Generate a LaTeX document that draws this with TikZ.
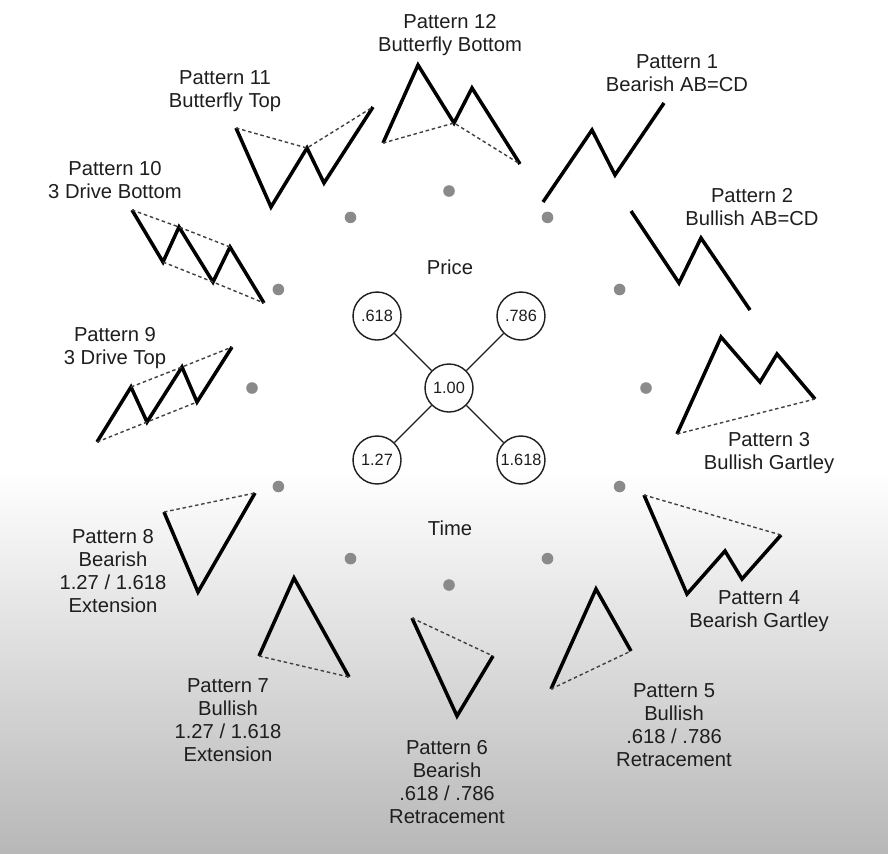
\documentclass[tikz,border=0pt]{standalone}
\usepackage{fontspec}
\setmainfont{Liberation Sans}
\usetikzlibrary{positioning}

\definecolor{ink}{HTML}{1E1E1E}
\definecolor{dotgray}{HTML}{8A8A8A}

\tikzset{
  wave/.style={draw=black, line width=2pt, line join=miter},
  guide/.style={draw=ink!85, line width=0.8pt, dash pattern=on 2pt off 1.6pt},
  spoke/.style={draw=ink, line width=0.7pt}
}

\begin{document}
\begin{tikzpicture}[x=0.02cm, y=-0.02cm, node distance=1.44cm and 1.44cm, on grid]
  % page and grey fade at the bottom
  \fill[white] (0,0) rectangle (888,853);
  \shade[top color=white, bottom color=black!28] (0,470) rectangle (888,853);
  \useasboundingbox (0,0) rectangle (888,853);

  % ratio circles in the middle
  \begin{scope}[every node/.style={circle, draw=ink, line width=0.8pt, minimum size=0.96cm,
      inner sep=0pt, text=ink, font=\fontsize{9.3}{11}\selectfont}]
    \node (one) at (449,388) {1.00};
    \node (r618) [above left=of one] {.618};
    \node (r786) [above right=of one] {.786};
    \node (r127) [below left=of one] {1.27};
    \node (r1618) [below right=of one] {1.618};
  \end{scope}
  \begin{scope}[every path/.style={spoke}]
    \path (one) edge (r618);
    \path (one) edge (r786);
    \path (one) edge (r127);
    \path (one) edge (r1618);
  \end{scope}

  % clock dots
  \foreach \a in {0,30,...,330}
    \fill[dotgray] (one.center) ++(\a:197) circle[radius=3.3pt];

  % the twelve patterns
  \draw[wave] (543,202) -- (592,130) -- (615,175) -- (664,103);                      % 1
  \draw[wave] (631,211) -- (679,283) -- (701,238) -- (750,310);                      % 2
  \draw[wave] (677,434) -- (721,337) -- (760,382) -- (777,354) -- (815,399);         % 3
  \draw[guide] (677,434) -- (815,399);
  \draw[wave] (644,495) -- (687,594) -- (725,551) -- (742,579) -- (781,535);         % 4
  \draw[guide] (644,495) -- (781,535);
  \draw[wave] (551,689) -- (596,589) -- (631,651);                                   % 5
  \draw[guide] (551,689) -- (631,651);
  \draw[wave] (412,618) -- (457,716) -- (493,656);                                   % 6
  \draw[guide] (412,618) -- (493,656);
  \draw[wave] (259,656) -- (294,578) -- (349,677);                                   % 7
  \draw[guide] (259,656) -- (349,677);
  \draw[wave] (164,512) -- (198,592) -- (255,493);                                   % 8
  \draw[guide] (164,512) -- (255,493);
  \draw[wave] (97,442) -- (131,387) -- (147,422) -- (182,367) -- (197,402) -- (232,347); % 9
  \draw[guide] (131,387) -- (182,367) -- (232,347);
  \draw[guide] (97,442) -- (147,422) -- (197,402);
  \draw[wave] (132,210) -- (163,262) -- (179,227) -- (213,282) -- (230,247) -- (264,303); % 10
  \draw[guide] (132,210) -- (179,227) -- (230,247);
  \draw[guide] (163,262) -- (213,282) -- (264,303);
  \draw[wave] (236,128) -- (271,207) -- (307,148) -- (324,183) -- (373,107);         % 11
  \draw[guide] (236,128) -- (307,148) -- (373,107);
  \draw[wave] (383,143) -- (418,65) -- (454,123) -- (472,88) -- (520,164);           % 12
  \draw[guide] (383,143) -- (454,123) -- (520,164);

  % labels
  \begin{scope}[every node/.style={align=center, text=ink, inner sep=0pt,
      font=\fontsize{11.5}{13.2}\selectfont}]
    \node (price) at (450,267) {Price};
    \node (time) at (450,528) {Time};
    \node (lab1) at (677,73) {Pattern 1\\Bearish AB=CD};
    \node (lab2) at (752,207) {Pattern 2\\Bullish AB=CD};
    \node (lab3) at (769,453) {Pattern 3\\Bullish Gartley};
    \node (lab4) at (759,611) {Pattern 4\\Bearish Gartley};
    \node (lab5) at (674,725) {Pattern 5\\Bullish\\.618 / .786\\Retracement};
    \node (lab6) at (447,782) {Pattern 6\\Bearish\\.618 / .786\\Retracement};
    \node (lab7) at (228,720) {Pattern 7\\Bullish\\1.27 / 1.618\\Extension};
    \node (lab8) at (113,571) {Pattern 8\\Bearish\\1.27 / 1.618\\Extension};
    \node (lab9) at (115,348) {Pattern 9\\3 Drive Top};
    \node (lab10) at (115,180) {Pattern 10\\3 Drive Bottom};
    \node (lab11) at (225,91) {Pattern 11\\Butterfly Top};
    \node (lab12) at (450,35) {Pattern 12\\Butterfly Bottom};
  \end{scope}
\end{tikzpicture}
\end{document}
